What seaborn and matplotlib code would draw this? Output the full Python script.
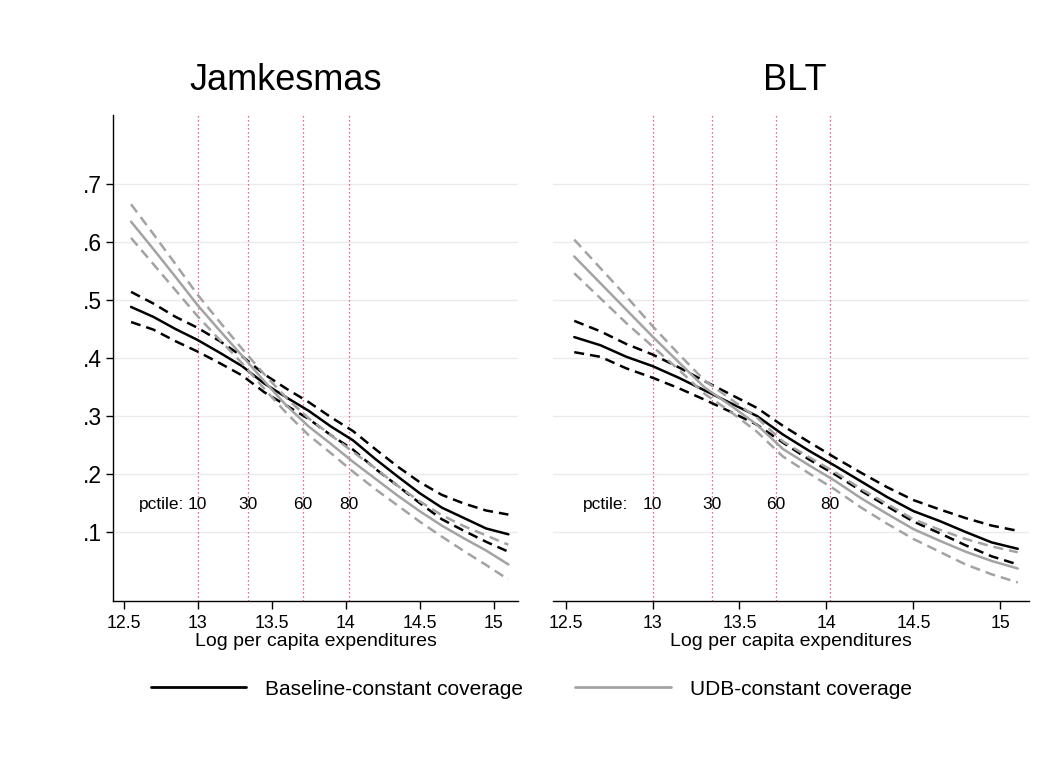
import numpy as np
import pandas as pd
import matplotlib
matplotlib.use("Agg")
import matplotlib.pyplot as plt
import seaborn as sns
from matplotlib.lines import Line2D

# ---------------- data ----------------
x_vals = [12.55, 12.7, 12.85, 13.0, 13.15, 13.3, 13.45, 13.6, 13.75, 13.9,
          14.05, 14.2, 14.35, 14.5, 14.65, 14.8, 14.95, 15.1]

jam_base = [.488, .471, .450, .431, .409, .386, .356, .332, .309, .282, .258, .226, .196, .167, .142, .124, .106, .096]
jam_base_hi = [.514, .494, .471, .452, .429, .403, .372, .347, .324, .298, .274, .243, .213, .186, .164, .149, .137, .130]
jam_base_lo = [.462, .449, .429, .411, .391, .370, .341, .318, .295, .267, .242, .209, .180, .150, .122, .102, .083, .066]
jam_udb = [.635, .588, .540, .491, .447, .404, .360, .318, .282, .252, .221, .192, .163, .136, .111, .089, .068, .044]
jam_udb_hi = [.665, .614, .562, .509, .462, .416, .372, .331, .296, .267, .238, .210, .180, .153, .129, .110, .094, .078]
jam_udb_lo = [.607, .562, .517, .472, .431, .391, .347, .305, .267, .236, .204, .174, .146, .118, .092, .067, .043, .018]

blt_base = [.436, .422, .402, .386, .366, .344, .322, .300, .268, .240, .214, .187, .160, .136, .119, .100, .082, .071]
blt_base_hi = [.464, .446, .424, .406, .384, .360, .337, .314, .283, .255, .228, .202, .177, .155, .139, .124, .111, .102]
blt_base_lo = [.410, .402, .382, .366, .348, .328, .307, .285, .254, .225, .199, .171, .144, .118, .098, .077, .058, .044]
blt_udb = [.575, .529, .483, .437, .393, .349, .318, .285, .243, .215, .188, .158, .131, .105, .085, .066, .050, .037]
blt_udb_hi = [.604, .555, .506, .455, .407, .361, .329, .297, .256, .229, .203, .174, .148, .122, .104, .088, .075, .065]
blt_udb_lo = [.546, .503, .460, .420, .380, .338, .307, .273, .230, .201, .173, .142, .114, .088, .066, .044, .027, .013]

pct_x = [13.0, 13.34, 13.71, 14.02]
pct_labels = ["10", "30", "60", "80"]
pct_text_y = 0.147

panel_titles = ["Jamkesmas", "BLT"]
series_labels = ["Baseline-constant coverage", "UDB-constant coverage"]
x_ticks = [12.5, 13, 13.5, 14, 14.5, 15]
x_tick_labels = ["12.5", "13", "13.5", "14", "14.5", "15"]
y_ticks = [.1, .2, .3, .4, .5, .6, .7]
y_tick_labels = [".1", ".2", ".3", ".4", ".5", ".6", ".7"]
x_label = "Log per capita expenditures"

# ---------------- style ----------------
sns.set_style("ticks")
plt.rcParams['font.family'] = ['Liberation Sans', 'DejaVu Sans']
plt.rcParams.update({
    "text.color": "black",
    "axes.labelcolor": "black",
    "xtick.color": "black",
    "ytick.color": "black",
    "axes.edgecolor": "black",
})

BLACK = "#000000"
GRAY = "#a3a3a3"
PINK = "#e4356d"
DASH = (0, (4, 2.4))

fig = plt.figure(figsize=(10.52, 7.71), dpi=100)
ax1 = fig.add_axes([0.1074, 0.2205, 0.385, 0.6304])
ax2 = fig.add_axes([0.5257, 0.2205, 0.4525, 0.6304])

panels = [
    (ax1, [(jam_base, BLACK, "-"), (jam_base_hi, BLACK, DASH), (jam_base_lo, BLACK, DASH),
           (jam_udb, GRAY, "-"), (jam_udb_hi, GRAY, DASH), (jam_udb_lo, GRAY, DASH)], True),
    (ax2, [(blt_base, BLACK, "-"), (blt_base_hi, BLACK, DASH), (blt_base_lo, BLACK, DASH),
           (blt_udb, GRAY, "-"), (blt_udb_hi, GRAY, DASH), (blt_udb_lo, GRAY, DASH)], False),
]

for ax, lines, show_y in panels:
    ax.set_facecolor("white")
    for yv in y_ticks:
        ax.axhline(yv, color="#ebebeb", lw=1.0, zorder=0)
    for px in pct_x:
        ax.axvline(px, color=PINK, lw=0.9, ls=(0, (1, 2.2)), zorder=1)
    for yv, col, ls in lines:
        df = pd.DataFrame({"x": x_vals, "y": yv})
        sns.lineplot(data=df, x="x", y="y", ax=ax, color=col, lw=1.8,
                     linestyle=ls, sort=False, errorbar=None, zorder=3)
    ax.text(12.6, pct_text_y, "pctile:", ha="left", va="center", fontsize=12.5, color="black")
    for px, lab in zip(pct_x, pct_labels):
        ax.text(px, pct_text_y, lab, ha="center", va="center", fontsize=12.5, color="black")

    ax.set_xlim(12.428, 15.165)
    ax.set_ylim(-0.019, 0.819)
    ax.set_xticks(x_ticks)
    ax.set_xticklabels(x_tick_labels)
    ax.tick_params(axis="x", length=6, width=1, pad=4, labelsize=12.8, direction="out",
                   colors="black")
    ax.set_xlabel(x_label, fontsize=14, labelpad=0.5, color="black")
    ax.set_ylabel("")
    ax.spines["top"].set_visible(False)
    ax.spines["right"].set_visible(False)
    ax.spines["bottom"].set_linewidth(1.0)
    ax.spines["bottom"].set_color("black")
    if show_y:
        ax.set_yticks(y_ticks)
        ax.set_yticklabels(y_tick_labels)
        ax.tick_params(axis="y", length=5, width=1, pad=3, labelsize=16.5, direction="out",
                       colors="black")
        ax.spines["left"].set_linewidth(1.0)
        ax.spines["left"].set_color("black")
    else:
        ax.set_yticks([])
        ax.spines["left"].set_visible(False)

fig.text(0.272, 0.895, panel_titles[0], ha="center", va="center", fontsize=26, color="black")
fig.text(0.756, 0.895, panel_titles[1], ha="center", va="center", fontsize=26, color="black")

handles = [Line2D([0], [0], color=BLACK, lw=2.0), Line2D([0], [0], color=GRAY, lw=2.0)]
fig.legend(handles=handles, labels=series_labels, loc="center",
           bbox_to_anchor=(0.505, 0.106), ncol=2, frameon=False, fontsize=15,
           handlelength=4.6, handletextpad=0.9, columnspacing=2.5, labelcolor="black")

fig.savefig("out.png", dpi=100, facecolor="white")
